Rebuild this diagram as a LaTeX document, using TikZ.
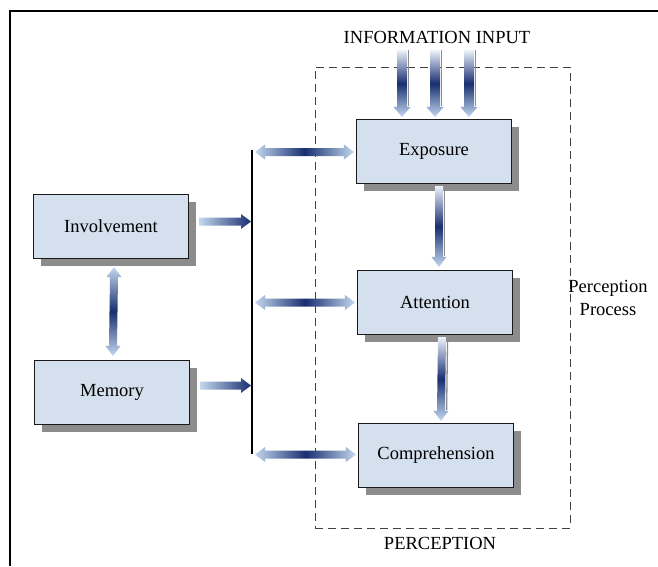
\documentclass[tikz,border=0pt]{standalone}
\usepackage{fontspec}
\setmainfont{Liberation Serif}
\usetikzlibrary{calc,shadows}
\definecolor{boxfill}{RGB}{212,224,237}
\definecolor{shadowgray}{RGB}{140,140,140}
\definecolor{ardark}{RGB}{24,46,112}
\definecolor{arlight}{RGB}{195,216,238}
\definecolor{arwhite}{RGB}{236,243,251}
\def\sw{4}\def\hw{7.5}\def\hl{10}
\newcommand\dharrow[2]{%
  \shade[left color=arlight, right color=arlight, middle color=ardark]
   (#1) -- ($(#1)+(\hl,-\hw)$) -- ($(#1)+(\hl,-\sw)$) -- ($(#2)+(-\hl,-\sw)$) -- ($(#2)+(-\hl,-\hw)$) -- (#2)
   -- ($(#2)+(-\hl,\hw)$) -- ($(#2)+(-\hl,\sw)$) -- ($(#1)+(\hl,\sw)$) -- ($(#1)+(\hl,\hw)$) -- cycle;}
\newcommand\sharrow[2]{%
  \shade[left color=arlight, right color=ardark]
   ($(#1)+(0,-\sw)$) -- ($(#2)+(-\hl,-\sw)$) -- ($(#2)+(-\hl,-\hw)$) -- (#2)
   -- ($(#2)+(-\hl,\hw)$) -- ($(#2)+(-\hl,\sw)$) -- ($(#1)+(0,\sw)$) -- cycle;}
\newcommand\dvarrow[2]{%
  \shade[top color=arlight, bottom color=arlight, middle color=ardark]
   (#1) -- ($(#1)+(-\hw,\hl)$) -- ($(#1)+(-\sw,\hl)$) -- ($(#2)+(-\sw,-\hl)$) -- ($(#2)+(-\hw,-\hl)$) -- (#2)
   -- ($(#2)+(\hw,-\hl)$) -- ($(#2)+(\sw,-\hl)$) -- ($(#1)+(\sw,\hl)$) -- ($(#1)+(\hw,\hl)$) -- cycle;}
\newcommand\svarrow[2]{%
  \draw[shadowgray, line width=1.3pt] ($(#1)+(\sw+1.6,0)$) -- ($(#2)+(\sw+1.6,-\hl-1)$);
  \shade[top color=arwhite, bottom color=arlight, middle color=ardark]
   ($(#1)+(-\sw,0)$) -- ($(#2)+(-\sw,-\hl)$) -- ($(#2)+(-\hw,-\hl)$) -- (#2)
   -- ($(#2)+(\hw,-\hl)$) -- ($(#2)+(\sw,-\hl)$) -- ($(#1)+(\sw,0)$) -- cycle;}
\begin{document}
\begin{tikzpicture}[x=1pt,y=-1pt,
  box/.style={draw=black!90, line width=1.1pt, fill=boxfill, minimum width=155pt, minimum height=64pt,
    inner sep=0pt, font=\fontsize{18.5}{23}\selectfont,
    general shadow={draw=none, fill=shadowgray, shadow xshift=7pt, shadow yshift=-7pt}},
  lbl/.style={font=\fontsize{18.5}{23}\selectfont, inner sep=0pt, align=center}]
\useasboundingbox (0,0) rectangle (658,566);
\fill[white] (0,0) rectangle (658,566);
% frame
\draw[line width=2.2pt] (10,566) -- (10,11) -- (658,11);
% perception region
\node[draw=black!75, dashed, dash pattern=on 8pt off 5pt, line width=0.9pt,
  minimum width=255pt, minimum height=461pt, inner sep=0pt] (perc) at (442.5,297.5) {};
\node[lbl] (perclbl) at (440,543) {PERCEPTION};
\node[lbl] (pproc) at (608,298) {Perception\\Process};
\node[lbl] (input) at (437,37) {INFORMATION INPUT};
% boxes
\node[box] (exp) at (434,151.5) {Exposure};
\node[box] (att) at (435,302.5) {Attention};
\node[box] (comp) at (436,455.5) {Comprehension};
\node[box] (inv) at (111,226.5) {Involvement};
\node[box] (mem) at (112,392.5) {Memory};
% bus line
\coordinate (bus) at (252,0);
\coordinate (bt) at ($(bus |- exp.west)+(0,-2)$);
\coordinate (bb) at ($(bus |- comp.west)+(0,-2)$);
\draw[line width=1.3pt] (bt) -- (bb);
% arrows bus <-> perception stages
\coordinate (e1) at ($(bus |- exp.west)+(3,0.5)$);
\coordinate (e2) at ($(exp.west)+(-2,0.5)$);
\dharrow{e1}{e2}
\coordinate (a1) at ($(bus |- att.west)+(3,0)$);
\coordinate (a2) at ($(att.west)+(-2,0)$);
\dharrow{a1}{a2}
\coordinate (c1) at ($(bus |- comp.west)+(3,-1)$);
\coordinate (c2) at ($(comp.west)+(-2,-1)$);
\dharrow{c1}{c2}
% involvement / memory -> bus
\coordinate (i1) at ($(inv.east)+(10,-5)$);
\coordinate (i2) at ($(bus |- inv.east)+(-1,-5)$);
\sharrow{i1}{i2}
\coordinate (m1) at ($(mem.east)+(10,-7)$);
\coordinate (m2) at ($(bus |- mem.east)+(-1,-7)$);
\sharrow{m1}{m2}
% involvement <-> memory
\coordinate (im1) at ($(inv.south)+(3,8)$);
\coordinate (im2) at ($(mem.north)+(1,-4)$);
\dvarrow{im1}{im2}
% exposure -> attention -> comprehension
\coordinate (ea1) at ($(exp.south)+(5,2)$);
\coordinate (ea2) at ($(att.north)+(4,-3)$);
\svarrow{ea1}{ea2}
\coordinate (ac1) at ($(att.south)+(7,2)$);
\coordinate (ac2) at ($(comp.north)+(5,-2)$);
\svarrow{ac1}{ac2}
% information input arrows
\def\sw{5}\def\hw{8.5}
\foreach \dx [count=\k] in {-32,1,35} {
  \coordinate (in\k a) at ($(exp.north)+(\dx,-69)$);
  \coordinate (in\k b) at ($(exp.north)+(\dx,-2)$);
  \svarrow{in\k a}{in\k b}
}
\end{tikzpicture}
\end{document}
